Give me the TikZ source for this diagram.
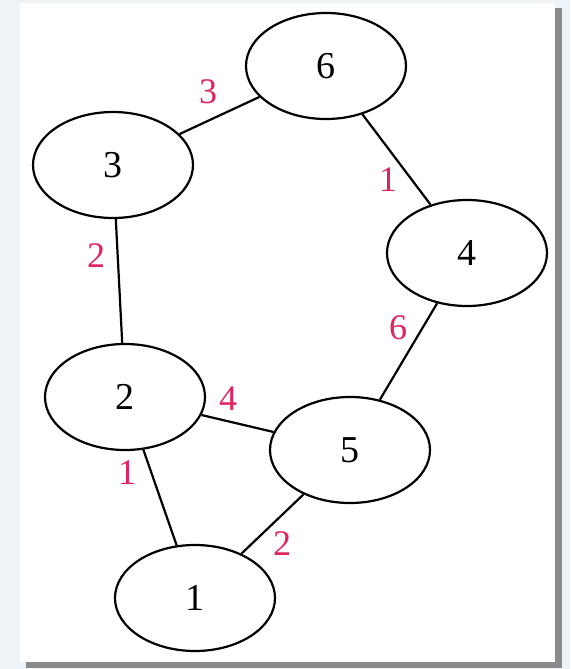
\documentclass[tikz,border=0pt]{standalone}
\usepackage{fontspec}
\setmainfont{Liberation Serif}
\usetikzlibrary{shapes.geometric}
\definecolor{bgout}{HTML}{EEF3F8}
\definecolor{shadowc}{HTML}{8A8A8A}
\definecolor{lblred}{HTML}{E0245E}
\tikzset{
  vert/.style={draw=black, line width=2.2pt, ellipse, minimum width=160pt, minimum height=106pt, inner sep=0pt, font=\fontsize{38}{38}\selectfont},
  edge/.style={draw=black, line width=2.2pt},
  wlabel/.style={text=lblred, font=\fontsize{36}{36}\selectfont, inner sep=0pt}
}
\begin{document}
\begin{tikzpicture}[x=1pt,y=-1pt]
\useasboundingbox (0,0) rectangle (570,669);
\fill[bgout] (0,0) rectangle (570,669);
\fill[shadowc] (26,8) rectangle (562,668);
\fill[white] (20,3) rectangle (555,662);
\node[vert] (n6) at (326,66) {6};
\node[vert] (n3) at (113,165) {3};
\node[vert] (n4) at (467,253) {4};
\node[vert] (n2) at (125,397) {2};
\node[vert] (n5) at (350,450) {5};
\node[vert] (n1) at (195,598) {1};
\draw[edge] (n3) -- (n6);
\draw[edge] (n6) -- (n4);
\draw[edge] (n3) -- (n2);
\draw[edge] (n2) -- (n5);
\draw[edge] (n4) -- (n5);
\draw[edge] (n2) -- (n1);
\draw[edge] (n5) -- (n1);
\node[wlabel] (l36) at (208,92) {3};
\node[wlabel] (l64) at (388,180) {1};
\node[wlabel] (l32) at (96,256) {2};
\node[wlabel] (l25) at (228,399) {4};
\node[wlabel] (l45) at (398,328) {6};
\node[wlabel] (l21) at (127,473) {1};
\node[wlabel] (l51) at (282,544) {2};
\end{tikzpicture}
\end{document}
